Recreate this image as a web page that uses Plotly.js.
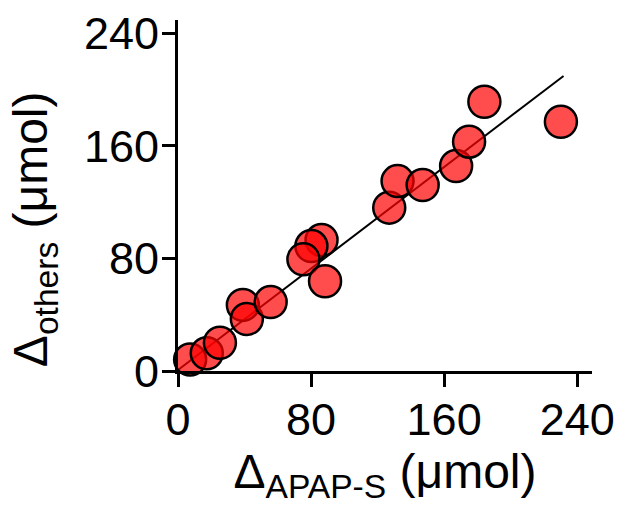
<!DOCTYPE html>
<html>
<head>
<meta charset="utf-8">
<script src="https://cdn.plot.ly/plotly-3.0.1.min.js"></script>
<style>html,body{margin:0;padding:0;background:#fff;}#chart{width:630px;height:518px;}</style>
</head>
<body>
<div id="chart"></div>
<script>
// Δ APAP-S (µmol) and Δ others (µmol) for each sample
const apapS  = [7.3, 17.3, 25.2, 39.0, 41.4, 55.7, 86.3, 80.2, 75.4, 88.4, 127.0, 132.0, 147.1, 167.2, 175.0, 184.2, 230.2];
const others = [8.2, 12.6, 20.1, 47.0, 37.0, 49.0, 93.1, 88.8, 79.4, 63.8, 116.1, 135.0, 132.2, 145.7, 163.0, 191.4, 177.2];
// Regression line endpoints
const fitX = [0, 231.8];
const fitY = [0.7, 209.7];
const tickVals = [0, 80, 160, 240];
const tickText = ['0', '80', '160', '240'];

const font = 'Arial, "Liberation Sans", Helvetica, sans-serif';

const traces = [
  {
    x: fitX, y: fitY, type: 'scatter', mode: 'lines',
    line: {color: '#000', width: 2}, hoverinfo: 'skip', showlegend: false
  },
  {
    x: apapS, y: others, type: 'scatter', mode: 'markers', cliponaxis: false,
    marker: {size: 32, color: 'rgba(255,0,0,0.7)', line: {color: '#000', width: 2.5}},
    showlegend: false
  }
];

const axisCommon = {
  tickvals: tickVals, ticktext: tickText,
  ticks: 'outside', ticklen: 13, tickwidth: 3, tickcolor: '#000',
  showline: true, linewidth: 3, linecolor: '#000',
  showgrid: false, zeroline: false,
  tickfont: {family: font, size: 45, color: '#000'}
};

const layout = {
  width: 630, height: 518,
  margin: {l: 178, r: 38, t: 20, b: 147},
  paper_bgcolor: '#fff', plot_bgcolor: '#fff',
  font: {family: font, color: '#000'},
  xaxis: Object.assign({}, axisCommon, {
    range: [0, 248.9],
    ticklabelstandoff: -6,
    title: {text: 'Δ<sub>APAP-S</sub> (μmol)', font: {family: font, size: 48, color: '#000'}, standoff: 8}
  }),
  yaxis: Object.assign({}, axisCommon, {
    range: [0, 249.5],
    ticklabelstandoff: -6
  }),
  annotations: [{
    text: 'Δ<sub>others</sub> (μmol)', textangle: -90,
    xref: 'paper', yref: 'paper', x: -0.347, y: 0.405,
    xanchor: 'center', yanchor: 'middle', showarrow: false,
    font: {family: font, size: 48, color: '#000'}
  }]
};

Plotly.newPlot('chart', traces, layout, {displayModeBar: false, staticPlot: true});
</script>
</body>
</html>
